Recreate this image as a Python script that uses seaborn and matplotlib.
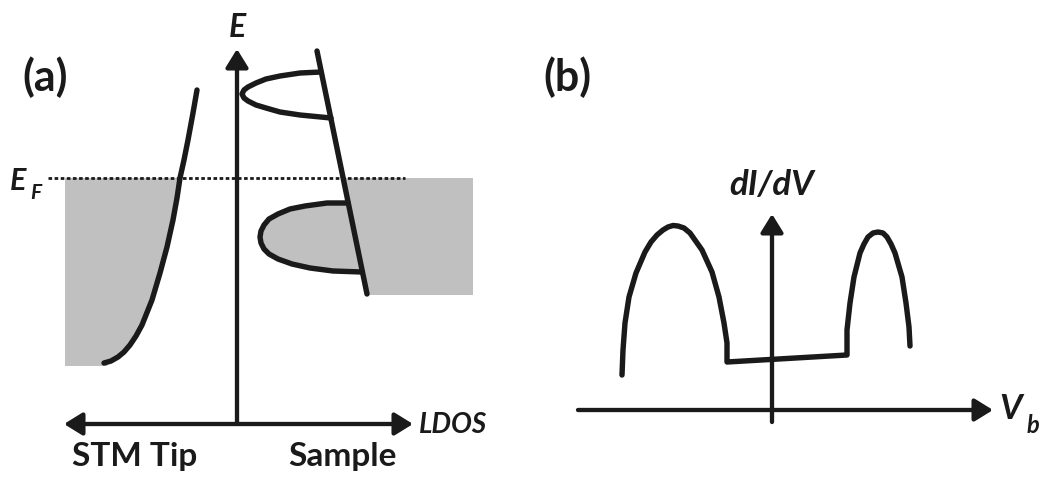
import matplotlib
matplotlib.use('Agg')
import matplotlib.pyplot as plt
import pandas as pd
import seaborn as sns

# everything is in image pixel coordinates (x right, y down)

# panel (a): STM tip LDOS curve
tip_x = [197, 193, 188, 184, 180, 177, 173, 167, 160, 152, 142, 136, 130, 124, 118, 111, 104]
tip_y = [90, 113, 140, 160, 178, 198, 220, 247, 273, 300, 325, 336, 345, 352, 357, 361, 363]
tip_fill_left = 65
tip_fill_bottom = 366
tip_fill_corner = 108

# panel (a): sample background line and the two lobes
sample_x = [317, 367]
sample_y = [51, 294]
lobe_up_x = [321, 300, 280, 266, 256, 248, 244, 242, 244, 248, 256, 266, 280, 300, 331]
lobe_up_y = [72, 73, 76, 79, 83, 87, 90, 94, 98, 101, 105, 108, 112, 115, 118]
lobe_lo_x = [348, 327, 305, 290, 278, 269, 264, 261, 260, 261, 264, 269, 278, 292, 310, 333, 362]
lobe_lo_y = [203, 203, 206, 209, 214, 219, 225, 231, 237, 243, 249, 254, 259, 264, 268, 271, 272]
sample_fill_x = [343, 473, 473, 367]
sample_fill_y = [178, 178, 295, 295]

fermi_y = 178
fermi_x = [48, 405]

# panel (b): dI/dV spectrum
didv_x = [622, 623, 625, 629, 636, 645, 651, 657, 663, 668, 673, 678, 684, 690, 702, 712, 719, 724,
          727, 727,
          847, 847, 850, 854, 860, 864, 868, 873, 878, 883, 887, 891, 895, 902, 906, 909, 910]
didv_y = [375, 350, 323, 297, 273, 252, 242, 235, 230, 227, 225.5, 226, 228, 233, 250, 272, 297, 323,
          343, 362,
          355, 330, 303, 277, 253, 244, 237, 233, 232, 233, 237, 244, 253, 277, 303, 327, 346]

GRAY = '#c0c0c0'
LW = 3.9
AX_LW = 3.1

sns.set_theme(style='white')
plt.rcParams['font.family'] = ['Lato', 'DejaVu Sans']

fig = plt.figure(figsize=(10.49, 4.8), dpi=100)
ax = fig.add_axes([0, 0, 1, 1])

# grey filled (occupied) states
k = tip_y.index(fermi_y)
ax.fill([tip_fill_left] + tip_x[k:] + [tip_fill_corner, tip_fill_left],
        [fermi_y] + tip_y[k:] + [tip_fill_bottom, tip_fill_bottom],
        color=GRAY, lw=0, zorder=1)
ax.fill(sample_fill_x, sample_fill_y, color=GRAY, lw=0, zorder=1)
ax.fill(lobe_lo_x, lobe_lo_y, color=GRAY, lw=0, zorder=1)

# Fermi level
ax.plot(fermi_x, [fermi_y, fermi_y], color='k', lw=2.0, ls=(0, (1.3, 0.9)), zorder=2)

curves = [('tip', tip_x, tip_y), ('sample', sample_x, sample_y),
          ('up', lobe_up_x, lobe_up_y), ('lo', lobe_lo_x, lobe_lo_y),
          ('didv', didv_x, didv_y)]
for name, xs, ys in curves:
    d = pd.DataFrame({'x': xs, 'y': ys})
    sns.lineplot(data=d, x='x', y='y', sort=False, estimator=None, color='k', lw=LW,
                 ax=ax, zorder=3)
ax.set_xlim(0, 1049)
ax.set_ylim(480, 0)
ax.axis('off')


def arrow(x0, y0, x1, y1, style='-|>'):
    ax.annotate('', xy=(x1, y1), xytext=(x0, y0),
                arrowprops=dict(arrowstyle=style + ',head_length=0.55,head_width=0.34',
                                mutation_scale=20, lw=AX_LW, color='k',
                                shrinkA=0, shrinkB=0), zorder=4)


# axes of panel (a)
arrow(237, 424, 237, 49)
arrow(64, 424, 413, 424, '<|-|>')
# axes of panel (b)
arrow(772, 422, 772, 214)
arrow(578, 410, 993, 410)

bold = dict(fontweight='bold', color='k')
ax.text(45, 77, '(a)', fontsize=31, ha='center', va='center', **bold)
ax.text(567, 77, '(b)', fontsize=31, ha='center', va='center', **bold)
ax.text(237, 37, 'E', fontsize=23, ha='center', va='baseline', style='italic', **bold)
ax.text(10, 190, 'E', fontsize=22, ha='left', va='baseline', style='italic', **bold)
ax.text(30, 199, 'F', fontsize=15, ha='left', va='baseline', style='italic', **bold)
ax.text(419, 433, 'LDOS', fontsize=20, ha='left', va='baseline', style='italic', **bold)
ax.text(135, 466, 'STM Tip', fontsize=24, ha='center', va='baseline', **bold)
ax.text(342, 466, 'Sample', fontsize=24, ha='center', va='baseline', **bold)
ax.text(772, 195, 'dI/dV', fontsize=25, ha='center', va='baseline', style='italic', **bold)
ax.text(999, 419, 'V', fontsize=25, ha='left', va='baseline', style='italic', **bold)
ax.text(1027, 433, 'b', fontsize=17, ha='left', va='baseline', style='italic', **bold)

fig.savefig('out.png', dpi=100)
